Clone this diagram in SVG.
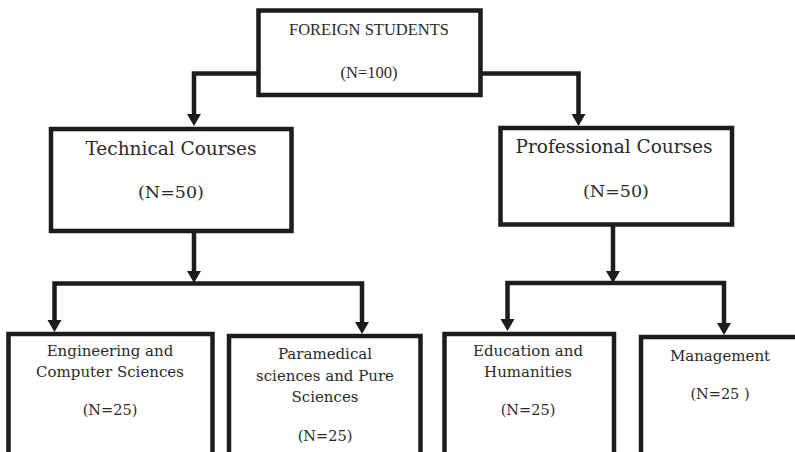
<svg xmlns="http://www.w3.org/2000/svg" width="795" height="452" viewBox="0 0 795 452">
<defs>
<style>
.box{fill:#fff;stroke:#1c1c1c;stroke-width:4.5}
.con{fill:none;stroke:#1c1c1c;stroke-width:4.5;stroke-linejoin:miter}
.t{font-family:"DejaVu Serif","Liberation Serif",serif;fill:#2a2a2a;text-anchor:middle}
.top{font-family:"Liberation Serif","DejaVu Serif",serif;fill:#2a2a2a;text-anchor:middle;font-size:16.5px}
.h{font-size:18.5px}
.n1{font-size:17.5px}
.s{font-size:15px}
.n2{font-size:14.5px}
</style>
<marker id="arr" markerUnits="userSpaceOnUse" viewBox="0 0 12 14" markerWidth="12" markerHeight="14" refX="4" refY="7" orient="auto" overflow="visible">
<path d="M0,0 L12,7 L0,14 z" fill="#1c1c1c"/>
</marker>
</defs>
<rect width="795" height="452" fill="#fff"/>
<g id="connectors">
<path class="con" d="M258,73.5 H194 V118" marker-end="url(#arr)"/>
<path class="con" d="M481,73.5 H578.5 V118" marker-end="url(#arr)"/>
<path class="con" d="M194,231 V275" marker-end="url(#arr)"/>
<path class="con" d="M194,283.5 H54.5 V324" marker-end="url(#arr)"/>
<path class="con" d="M194,283.5 H362 V326" marker-end="url(#arr)"/>
<path class="con" d="M613,224 V275" marker-end="url(#arr)"/>
<path class="con" d="M613,283 H507.5 V323" marker-end="url(#arr)"/>
<path class="con" d="M613,283 H724 V327" marker-end="url(#arr)"/>
</g>
<g id="foreign">
<rect class="box" x="258.5" y="10.5" width="222" height="84.5"/>
<text class="top" x="369" y="35">FOREIGN STUDENTS</text>
<text class="top" x="369" y="78">(N=100)</text>
</g>
<g id="technical">
<rect class="box" x="51" y="129" width="240.5" height="102"/>
<text class="t h" x="171" y="155">Technical Courses</text>
<text class="t n1" x="171" y="198">(N=50)</text>
</g>
<g id="professional">
<rect class="box" x="500.5" y="128" width="231.5" height="96.5"/>
<text class="t h" x="614" y="153">Professional Courses</text>
<text class="t n1" x="616" y="197">(N=50)</text>
</g>
<g id="engineering">
<rect class="box" x="8.5" y="334" width="204" height="140"/>
<text class="t s" x="110" y="356">Engineering and</text>
<text class="t s" x="110" y="377">Computer Sciences</text>
<text class="t n2" x="110" y="415">(N=25)</text>
</g>
<g id="paramedical">
<rect class="box" x="229" y="336" width="191.5" height="140"/>
<text class="t s" x="325" y="359">Paramedical</text>
<text class="t s" x="325" y="381">sciences and Pure</text>
<text class="t s" x="325" y="402">Sciences</text>
<text class="t n2" x="325" y="441">(N=25)</text>
</g>
<g id="education">
<rect class="box" x="444.5" y="334" width="169.5" height="140"/>
<text class="t s" x="528" y="356">Education and</text>
<text class="t s" x="528" y="377">Humanities</text>
<text class="t n2" x="528" y="415">(N=25)</text>
</g>
<g id="management">
<rect class="box" x="641" y="337" width="180" height="140"/>
<text class="t s" x="720" y="361">Management</text>
<text class="t n2" x="720" y="399">(N=25 )</text>
</g>
</svg>
